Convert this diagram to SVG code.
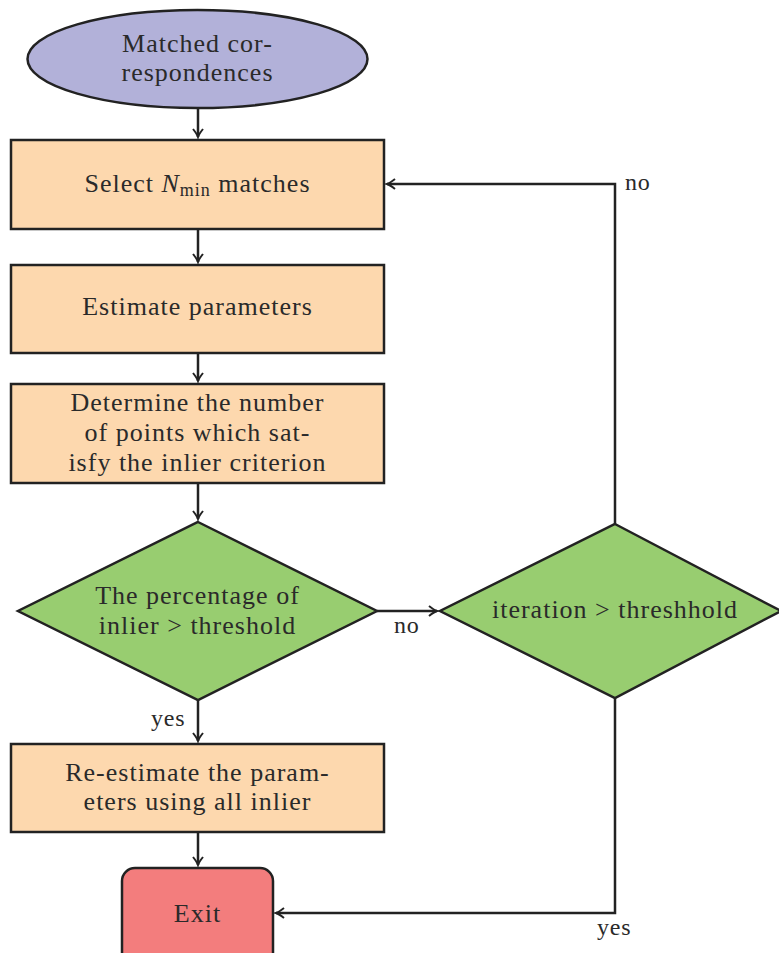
<svg xmlns="http://www.w3.org/2000/svg" width="779" height="953" viewBox="0 0 779 953">
  <style>
    .shape { stroke: #222; stroke-width: 2.5; }
    .proc { fill: #fdd8ae; }
    .start { fill: #b2b1d9; }
    .dec { fill: #98cd70; }
    .stop { fill: #f37d7d; }
    .lbl { fill: #2a2a2a; text-anchor: middle; letter-spacing: 1px; }
    .edge { fill: none; stroke: #222; stroke-width: 2.5; marker-end: url(#arrow); }
    .tag { fill: #2a2a2a; letter-spacing: 0.8px; }
  </style>
  <defs>
    <marker id="arrow" viewBox="-10 -6 12 12" markerWidth="12" markerHeight="12" markerUnits="userSpaceOnUse" refX="0" refY="0" orient="auto">
      <path d="M -8,-5 Q -3,-1 0,0 Q -3,1 -8,5" fill="none" stroke="#222" stroke-width="2"/>
    </marker>
  </defs>
  <rect width="779" height="953" fill="#fff"/>

  <g font-family="Liberation Serif, Times New Roman, serif" font-size="26">
  <g id="connectors" font-size="24">
    <path class="edge" d="M 198,108 V 137"/>
    <path class="edge" d="M 198,229 V 262"/>
    <path class="edge" d="M 198,353 V 381"/>
    <path class="edge" d="M 198,483 V 519"/>
    <path class="edge" d="M 377,611 H 437"/>
    <path class="edge" d="M 198,700 V 741"/>
    <path class="edge" d="M 198,832 V 865"/>
    <path class="edge" d="M 615,524 V 184 H 387"/>
    <path class="edge" d="M 615,698 V 913 H 276"/>
    <text class="tag" x="394" y="633">no</text>
    <text class="tag" x="151" y="726">yes</text>
    <text class="tag" x="625" y="190">no</text>
    <text class="tag" x="597" y="935">yes</text>
  </g>

  <g id="start">
    <ellipse class="shape start" cx="197.5" cy="59" rx="170" ry="49"/>
    <text class="lbl" x="197.5" y="52">Matched cor-</text>
    <text class="lbl" x="197.5" y="81">respondences</text>
  </g>

  <g id="select">
    <rect class="shape proc" x="11" y="140" width="373" height="89"/>
    <text class="lbl" x="197.5" y="192">Select <tspan font-style="italic">N</tspan><tspan font-size="18" dy="4">min</tspan><tspan dy="-4"> matches</tspan></text>
  </g>

  <g id="estimate">
    <rect class="shape proc" x="11" y="265" width="373" height="88"/>
    <text class="lbl" x="197.5" y="315">Estimate parameters</text>
  </g>

  <g id="count">
    <rect class="shape proc" x="11" y="384" width="373" height="99"/>
    <text class="lbl" x="197.5" y="411">Determine the number</text>
    <text class="lbl" x="197.5" y="441">of points which sat-</text>
    <text class="lbl" x="197.5" y="471">isfy the inlier criterion</text>
  </g>

  <g id="ratio">
    <polygon class="shape dec" points="198,522 377,611 198,700 18,611"/>
    <text class="lbl" x="197.5" y="604">The percentage of</text>
    <text class="lbl" x="197.5" y="634">inlier &gt; threshold</text>
  </g>

  <g id="iteration">
    <polygon class="shape dec" points="615,524 781,611 615,698 440,611"/>
    <text class="lbl" x="615" y="618">iteration &gt; threshhold</text>
  </g>

  <g id="refit">
    <rect class="shape proc" x="11" y="744" width="373" height="88"/>
    <text class="lbl" x="197.5" y="781">Re-estimate the param-</text>
    <text class="lbl" x="197.5" y="810">eters using all inlier</text>
  </g>

  <g id="exit">
    <rect class="shape stop" x="122" y="868" width="151" height="100" rx="13"/>
    <text class="lbl" x="197.5" y="922">Exit</text>
  </g>
  </g>
</svg>
